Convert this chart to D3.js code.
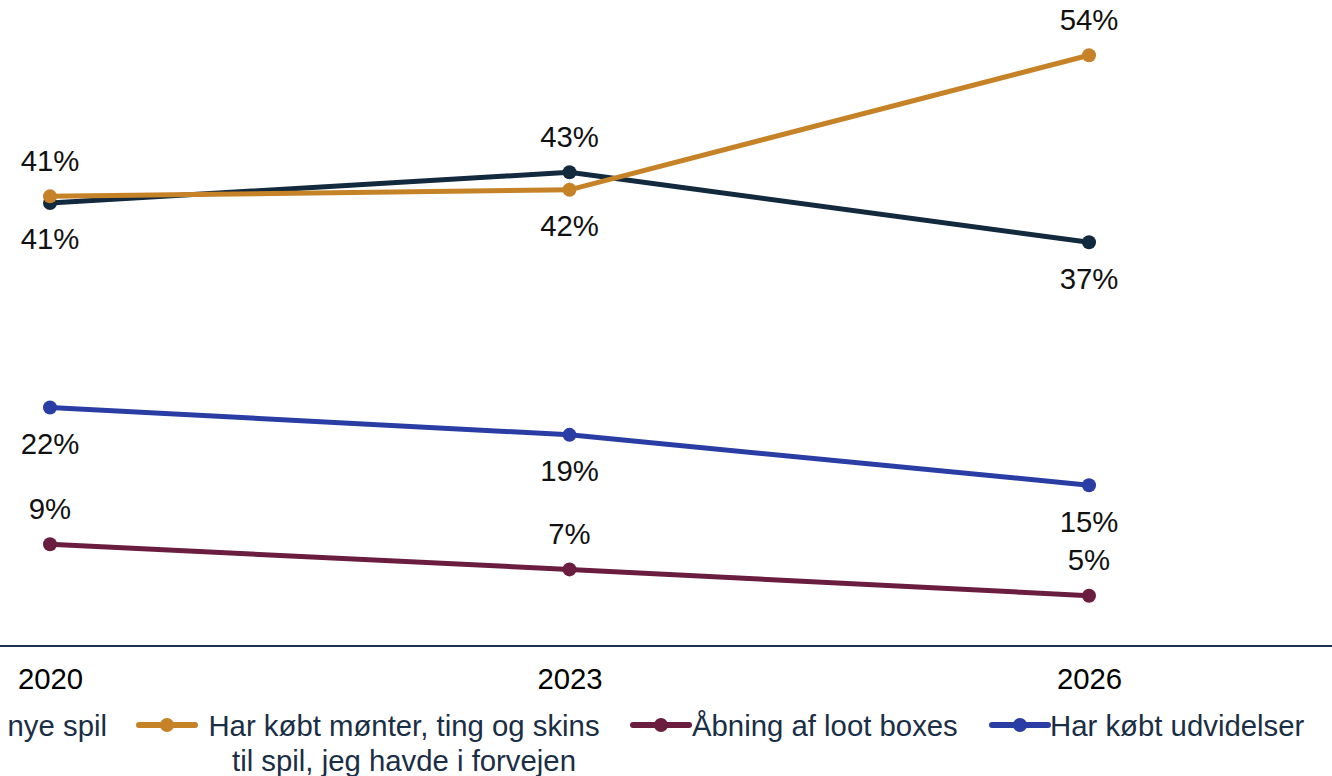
<!DOCTYPE html>
<html>
<head>
<meta charset="utf-8">
<script src="https://cdn.jsdelivr.net/npm/d3@7"></script>
<style>
  body { margin: 0; background: #fff; }
  svg { display: block; font-family: "Liberation Sans", Arial, sans-serif; }
</style>
</head>
<body>
<svg id="chart" width="1332" height="776"></svg>
<script>
// years on the x axis
const years = ["2020", "2023", "2026"];

// series values (percent)
const nyeSpil = [40.5, 43.3, 36.9];
const moenter = [41.1, 41.7, 54.0];
const udvidelser = [21.8, 19.3, 14.7];
const lootBoxes = [9.3, 7.0, 4.6];

const seriesNames = [
    "Har købt nye spil",
    "Har købt mønter, ting og skins til spil, jeg havde i forvejen",
    "Åbning af loot boxes",
    "Har købt udvidelser"
];

// label placement per point: -1 above, 1 below
const labelSides = {
    nyeSpil: [1, -1, 1],
    moenter: [-1, 1, -1],
    udvidelser: [1, 1, 1],
    lootBoxes: [-1, -1, -1]
};

const width = 1332, height = 776;
const baseY = 646;
const fontSize = 29.33; // 22pt

const svg = d3.select("#chart");

const x = d3.scalePoint()
    .domain(years)
    .range([50, 1089]);

const y = d3.scaleLinear()
    .domain([0, 60])
    .range([baseY, baseY - 60 * 10.94]);

const series = [
    {key: "nyeSpil", name: seriesNames[0], values: nyeSpil, color: "#13293d"},
    {key: "moenter", name: seriesNames[1], values: moenter, color: "#c58227"},
    {key: "lootBoxes", name: seriesNames[2], values: lootBoxes, color: "#6a1d3f"},
    {key: "udvidelser", name: seriesNames[3], values: udvidelser, color: "#2a3da5"}
];

// x axis: plain line across the whole width, labels under it
svg.append("line")
    .attr("x1", 0).attr("x2", width)
    .attr("y1", baseY).attr("y2", baseY)
    .attr("stroke", "#1d3350")
    .attr("stroke-width", 2);

const xAxis = svg.append("g")
    .attr("transform", "translate(0," + baseY + ")")
    .call(d3.axisBottom(x).tickSize(0).tickPadding(22));
xAxis.select(".domain").remove();
xAxis.selectAll("text")
    .attr("font-size", fontSize)
    .attr("font-family", "Liberation Sans, Arial, sans-serif")
    .attr("fill", "#000");

const line = d3.line()
    .x((d, i) => x(years[i]))
    .y(d => y(d));

// draw order: blue and maroon first, then navy, orange on top
const drawOrder = ["udvidelser", "lootBoxes", "nyeSpil", "moenter"];
drawOrder.forEach(function(k) {
    const s = series.find(d => d.key === k);
    const g = svg.append("g");
    g.append("path")
        .datum(s.values)
        .attr("d", line)
        .attr("fill", "none")
        .attr("stroke", s.color)
        .attr("stroke-width", 5);
    g.selectAll("circle")
        .data(s.values).enter()
        .append("circle")
        .attr("cx", (d, i) => x(years[i]))
        .attr("cy", d => y(d))
        .attr("r", 7)
        .attr("fill", s.color);
    g.selectAll("text")
        .data(s.values).enter()
        .append("text")
        .attr("x", (d, i) => x(years[i]))
        .attr("y", (d, i) => y(d) + labelSides[k][i] * 36)
        .attr("dy", "0.36em")
        .attr("text-anchor", "middle")
        .attr("font-size", fontSize)
        .attr("fill", "#111")
        .text(d => Math.round(d) + "%");
});

// legend (first item runs off the left edge, as in the original)
const legendY = 725;
const legendItems = [
    {s: series[0], mx: -150, lines: ["Har købt nye spil"], tx: 107, anchor: "end"},
    {s: series[1], mx: 167, lines: ["Har købt mønter, ting og skins", "til spil, jeg havde i forvejen"], tx: 404, anchor: "middle"},
    {s: series[2], mx: 661, lines: ["Åbning af loot boxes"], tx: 692, anchor: "start"},
    {s: series[3], mx: 1020, lines: ["Har købt udvidelser"], tx: 1050, anchor: "start"}
];

const legend = svg.append("g");
legendItems.forEach(function(it) {
    const g = legend.append("g");
    g.append("line")
        .attr("x1", it.mx - 28).attr("x2", it.mx + 28)
        .attr("y1", legendY).attr("y2", legendY)
        .attr("stroke", it.s.color)
        .attr("stroke-width", 6)
        .attr("stroke-linecap", "round");
    g.append("circle")
        .attr("cx", it.mx).attr("cy", legendY)
        .attr("r", 7)
        .attr("fill", it.s.color);
    const t = g.append("text")
        .attr("x", it.tx)
        .attr("y", legendY)
        .attr("text-anchor", it.anchor)
        .attr("font-size", fontSize)
        .attr("fill", "#1a2e45");
    it.lines.forEach(function(l, i) {
        t.append("tspan")
            .attr("x", it.tx)
            .attr("dy", i === 0 ? "0.36em" : "1.2em")
            .text(l);
    });
});
</script>
</body>
</html>
